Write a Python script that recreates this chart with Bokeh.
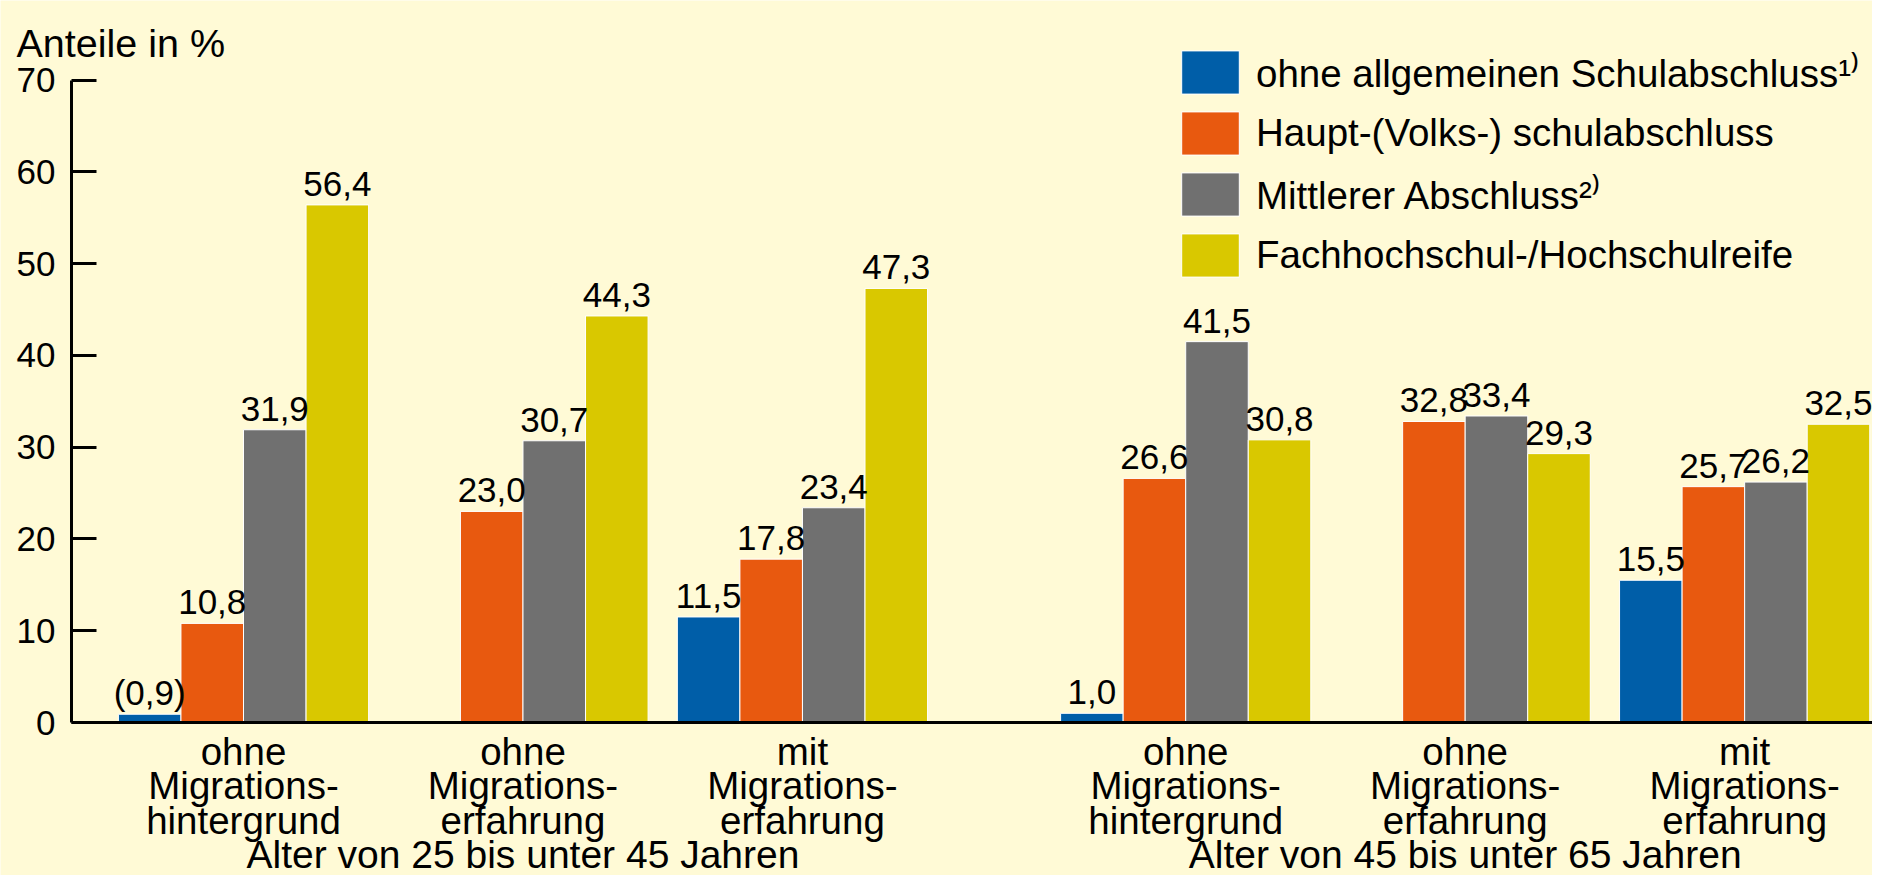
from bokeh.plotting import figure
from bokeh.models import (ColumnDataSource, Range1d, FixedTicker, LabelSet, Label,
                          Legend, LegendItem)
from bokeh.core.properties import value
from bokeh.embed import file_html
from bokeh.resources import INLINE

# ---------------- data ----------------
BLOCK_LABELS = ["Alter von 25 bis unter 45 Jahren", "Alter von 45 bis unter 65 Jahren"]
CAT_LINE1 = ["ohne", "ohne", "mit", "ohne", "ohne", "mit"]
CAT_LINE2 = ["Migrations-", "Migrations-", "Migrations-", "Migrations-", "Migrations-", "Migrations-"]
CAT_LINE3 = ["hintergrund", "erfahrung", "erfahrung", "hintergrund", "erfahrung", "erfahrung"]
CAT_BLOCK = [0, 0, 0, 1, 1, 1]

SERIES = ["ohne allgemeinen Schulabschluss\u00b9\u207e",
          "Haupt-(Volks-) schulabschluss",
          "Mittlerer Abschluss\u00b2\u207e",
          "Fachhochschul-/Hochschulreife"]
OHNE_ABSCHLUSS = [0.9, None, 11.5, 1.0, None, 15.5]
HAUPTSCHULE = [10.8, 23.0, 17.8, 26.6, 32.8, 25.7]
MITTLERER = [31.9, 30.7, 23.4, 41.5, 33.4, 26.2]
HOCHSCHULREIFE = [56.4, 44.3, 47.3, 30.8, 29.3, 32.5]
# values of limited reliability are shown in parentheses
OHNE_ABSCHLUSS_UNSICHER = [True, False, False, False, False, False]

Y_TICKS = [0, 10, 20, 30, 40, 50, 60, 70]
Y_AXIS_TITLE = "Anteile in %"

COLORS = ["#005EA8", "#E8590F", "#707070", "#D9C800"]
BG = "#FFFAD6"
FONT = "Liberation Sans"
TEXT_SIZE = "39.5px"
CAT_SIZE = "38.5px"
NUM_SIZE = "35px"

# ---------------- layout (pixels of the canvas) ----------------
W, H = 1872, 875
AXIS_X_PX = 71          # vertical axis position from canvas left
BASE_Y_PX = 722         # zero line from canvas top
PX_PER_10 = 91.77       # pixels per 10 percentage points
XPU = 62.55             # pixels per bar slot

YPU = PX_PER_10 / 10.0
X_START = -AXIS_X_PX / XPU
X_END = (W - AXIS_X_PX) / XPU
Y_START = -(H - BASE_Y_PX) / YPU
Y_END = BASE_Y_PX / YPU

LEFT_PAD = 0.75
GROUP_GAP = 0.468
BLOCK_GAP = 2.127
N_SER = 4

group_start = [LEFT_PAD + gi * (N_SER + GROUP_GAP) + CAT_BLOCK[gi] * (BLOCK_GAP - GROUP_GAP)
               for gi in range(len(CAT_LINE1))]
group_center = [s + N_SER / 2 for s in group_start]


def fmt(v):
    return ("%.1f" % v).replace(".", ",")


p = figure(width=W, height=H, output_backend="svg", toolbar_location=None,
           x_range=Range1d(X_START, X_END), y_range=Range1d(Y_START, Y_END),
           min_border=0)
p.background_fill_color = BG
p.border_fill_color = BG
p.outline_line_color = None
p.xgrid.visible = False
p.ygrid.visible = False

all_series = [OHNE_ABSCHLUSS, HAUPTSCHULE, MITTLERER, HOCHSCHULREIFE]
renderers = []
lab_x, lab_y, lab_t = [], [], []
for si, vals in enumerate(all_series):
    xs, tops = [], []
    for gi, v in enumerate(vals):
        if v is None:
            continue
        x = group_start[gi] + si + 0.5
        xs.append(x)
        tops.append(v)
        t = fmt(v)
        if si == 0 and OHNE_ABSCHLUSS_UNSICHER[gi]:
            t = "(" + t + ")"
        lab_x.append(x)
        lab_y.append(v)
        lab_t.append(t)
    src = ColumnDataSource(dict(x=xs, top=tops))
    r = p.vbar(x="x", top="top", width=1.0, source=src, fill_color=COLORS[si],
               line_color="white", line_width=1)
    renderers.append(r)

vals_src = ColumnDataSource(dict(x=lab_x, y=lab_y, t=lab_t))
p.add_layout(LabelSet(x="x", y="y", text="t", source=vals_src, y_offset=9,
                      text_align="center", text_baseline="alphabetic",
                      text_font=value(FONT), text_font_size=value(NUM_SIZE),
                      text_color="black"))

# category labels (three lines each)
for line, texts in enumerate([CAT_LINE1, CAT_LINE2, CAT_LINE3]):
    src = ColumnDataSource(dict(x=group_center, y=[0] * len(texts), t=texts))
    p.add_layout(LabelSet(x="x", y="y", text="t", source=src, y_offset=-(42 + 34.5 * line),
                          text_align="center", text_baseline="alphabetic",
                          text_font=value(FONT), text_font_size=value(CAT_SIZE),
                          text_color="black"))

# block labels
block_x = []
for bi in range(len(BLOCK_LABELS)):
    cs = [group_center[gi] for gi in range(len(group_center)) if CAT_BLOCK[gi] == bi]
    block_x.append(sum(cs) / len(cs))
bsrc = ColumnDataSource(dict(x=block_x, y=[0] * len(BLOCK_LABELS), t=BLOCK_LABELS))
p.add_layout(LabelSet(x="x", y="y", text="t", source=bsrc, y_offset=-145,
                      text_align="center", text_baseline="alphabetic",
                      text_font=value(FONT), text_font_size=value("39px"),
                      text_color="black"))

# axis title
p.add_layout(Label(x=(16 - AXIS_X_PX) / XPU, y=(BASE_Y_PX - 42) / YPU, text=Y_AXIS_TITLE,
                   text_font=FONT, text_font_size=TEXT_SIZE, text_baseline="alphabetic",
                   text_color="black"))

# axes drawn at fixed data positions
p.yaxis.fixed_location = 0
p.yaxis.ticker = FixedTicker(ticks=Y_TICKS)
p.yaxis.bounds = (0, 70)
p.yaxis.axis_line_width = 3
p.yaxis.axis_line_color = "black"
p.yaxis.major_tick_in = 25
p.yaxis.major_tick_out = 0
p.yaxis.major_tick_line_width = 3
p.yaxis.major_tick_line_color = "black"
p.yaxis.minor_tick_line_color = None
p.yaxis.major_label_standoff = 16
p.yaxis.major_label_text_font = FONT
p.yaxis.major_label_text_font_size = NUM_SIZE
p.yaxis.major_label_text_color = "black"

p.xaxis.fixed_location = 0
p.xaxis.ticker = FixedTicker(ticks=[])
p.xaxis.bounds = (0, X_END)
p.xaxis.axis_line_width = 3
p.xaxis.axis_line_color = "black"
p.xaxis.major_tick_line_color = None
p.xaxis.minor_tick_line_color = None

# legend (area glyphs are drawn inset by 10% of the glyph box)
legend = Legend(items=[LegendItem(label=SERIES[i], renderers=[renderers[i]]) for i in range(4)],
                location=(1174, 593), orientation="vertical",
                glyph_width=72, glyph_height=54, label_height=54, label_standoff=10,
                spacing=7, padding=0, margin=0, border_line_color=None,
                background_fill_alpha=0, label_text_font=FONT,
                label_text_font_size="38.5px", label_text_color="black")
p.add_layout(legend)

open("out.html", "w").write(file_html(p, INLINE))
